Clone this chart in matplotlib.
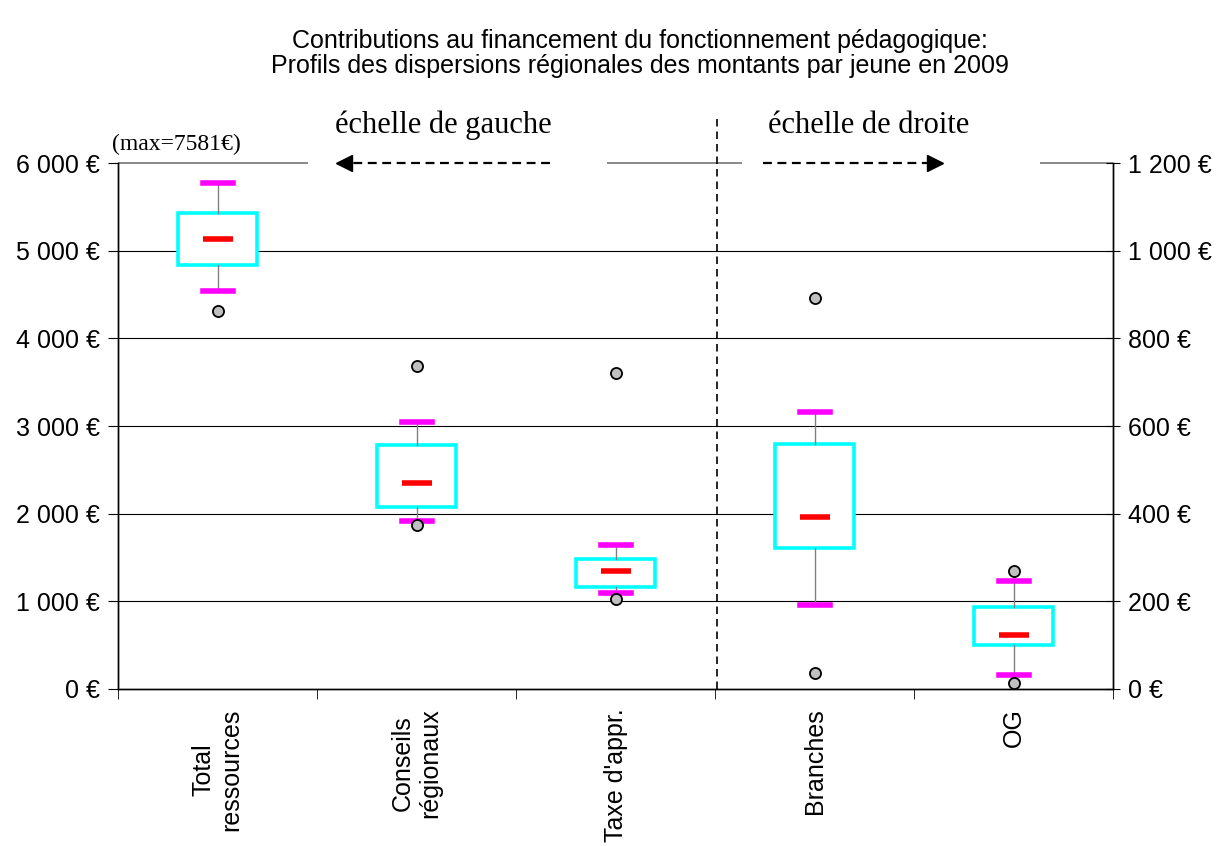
import matplotlib
matplotlib.use('Agg')
import matplotlib.pyplot as plt

# categories and box statistics
categories = ['Total\nressources', 'Conseils\nrégionaux', "Taxe d'appr.", 'Branches', 'OG']

# left scale (€)
left_q1 = [4836, 2076, 1163]
left_med = [5133, 2350, 1346]
left_q3 = [5430, 2783, 1483]
left_lo = [4540, 1916, 1095]
left_hi = [5772, 3046, 1643]
left_fliers = [[4312], [3684, 1870], [3604, 1027]]

# right scale (€)
right_q1 = [322, 100]
right_med = [392, 123]
right_q3 = [559, 187]
right_lo = [192, 32]
right_hi = [632, 246]
right_fliers = [[892, 36], [269, 14]]

left_ticks = [0, 1000, 2000, 3000, 4000, 5000, 6000]
right_ticks = [0, 200, 400, 600, 800, 1000, 1200]

SANS = 'Liberation Sans'
SERIF = 'Liberation Serif'


def fmt(v):
    return '{:,}'.format(v).replace(',', ' ') + ' €'


def make_stats(q1, med, q3, lo, hi, fl):
    return [dict(q1=a, med=b, q3=c, whislo=d, whishi=e, fliers=f)
            for a, b, c, d, e, f in zip(q1, med, q3, lo, hi, fl)]


def draw_boxes(axis, stats, pos, meds):
    axis.bxp(stats, positions=pos, widths=0.4, capwidths=0.15,
             patch_artist=True, showfliers=True,
             boxprops=dict(facecolor='white', edgecolor='#00FFFF', linewidth=2.6),
             whiskerprops=dict(color='#808080', linewidth=1),
             capprops=dict(color='#FF00FF', linewidth=4),
             medianprops=dict(linewidth=0),
             flierprops=dict(marker='o', markerfacecolor='#C0C0C0',
                             markeredgecolor='black', markersize=8,
                             markeredgewidth=1.3),
             zorder=3)
    axis.hlines(meds, [p - 0.075 for p in pos], [p + 0.075 for p in pos],
                color='red', linewidth=4, zorder=4)


fig = plt.figure(figsize=(12.26, 8.46), dpi=100)
ax = fig.add_axes([0.0963, 0.1856, 0.8117, 0.6217])
ax2 = ax.twinx()

ax.set_xlim(-0.5, 4.5)
ax.set_ylim(0, 6000)
ax2.set_ylim(0, 1200)

# grid lines (top one is grey and interrupted by the annotations)
ax.hlines(left_ticks[1:-1], -0.5, 4.5, color='black', linewidth=0.8, zorder=1)
ax.hlines([6000] * 3, [-0.5, 1.957, 4.133], [0.455, 2.636, 4.5],
          color='#808080', linewidth=1.3, zorder=1, clip_on=False)

draw_boxes(ax, make_stats(left_q1, left_med, left_q3, left_lo, left_hi, left_fliers),
           [0, 1, 2], left_med)
draw_boxes(ax2, make_stats(right_q1, right_med, right_q3, right_lo, right_hi, right_fliers),
           [3, 4], right_med)

# separator between the two scales
ax.plot([2.51, 2.51], [0, 6513], color='black', linewidth=1.2,
        linestyle=(0, (4.5, 3)), clip_on=False, zorder=2)

# arrows
ax.plot([1.67, 0.66], [6000, 6000], color='black', linewidth=1.6,
        linestyle=(0, (4, 2.5)), clip_on=False)
ax.plot([0.635], [6000], marker='<', color='black', markersize=12, clip_on=False)
ax.plot([2.74, 3.58], [6000, 6000], color='black', linewidth=1.6,
        linestyle=(0, (4, 2.5)), clip_on=False)
ax.plot([3.605], [6000], marker='>', color='black', markersize=12, clip_on=False)

ax.text(1.133, 6430, 'échelle de gauche', family=SERIF, fontsize=22,
        ha='center', va='center', clip_on=False)
ax.text(3.27, 6430, 'échelle de droite', family=SERIF, fontsize=22,
        ha='center', va='center', clip_on=False)
ax.text(-0.53, 6210, '(max=7581€)', family=SERIF, fontsize=17,
        ha='left', va='center', clip_on=False,
        bbox=dict(facecolor='white', edgecolor='none', pad=1))

# axes styling
for a in (ax, ax2):
    a.spines['top'].set_visible(False)
    a.spines['left'].set_linewidth(1)
    a.spines['right'].set_linewidth(1)
    a.spines['bottom'].set_linewidth(1)

ax.set_yticks(left_ticks)
ax.set_yticklabels([fmt(v) for v in left_ticks], family=SANS, fontsize=18)
ax2.set_yticks(right_ticks)
ax2.set_yticklabels([fmt(v) for v in right_ticks], family=SANS, fontsize=18)
ax.tick_params(axis='y', direction='out', length=7, pad=6)
ax2.tick_params(axis='y', direction='inout', length=10, pad=6)

ax.set_xticks(range(len(categories)))
ax.set_xticklabels(categories, rotation=90, family=SANS, fontsize=18,
                   ha='center', va='top', multialignment='center')
ax.set_xticks([-0.5, 0.5, 1.5, 2.5, 3.5, 4.5], minor=True)
ax.tick_params(axis='x', which='major', length=0, pad=14)
ax.tick_params(axis='x', which='minor', direction='out', length=7)
ax2.set_xlim(-0.5, 4.5)

fig.text(0.522, 0.951, 'Contributions au financement du fonctionnement pédagogique:',
         family=SANS, fontsize=18, ha='center', va='center')
fig.text(0.522, 0.922, 'Profils des dispersions régionales des montants par jeune en 2009',
         family=SANS, fontsize=18, ha='center', va='center')

fig.savefig('out.png', dpi=100)
